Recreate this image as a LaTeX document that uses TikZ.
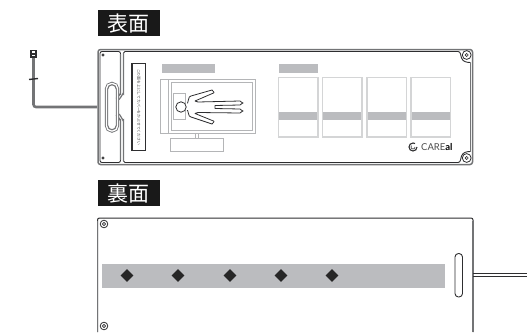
\documentclass[tikz,border=0pt]{standalone}
\usepackage{fontspec}
\setsansfont{Lato}
\newfontfamily\cjkfont{Noto Sans CJK JP}
\usetikzlibrary{shapes}
\definecolor{barkgrey}{HTML}{BBBCBF}
\definecolor{edgegrey}{HTML}{737476}
\definecolor{darkline}{HTML}{2E2E30}
\definecolor{cardgrey}{HTML}{D4D5D6}
\definecolor{bedgrey}{HTML}{B4B5B7}
\tikzset{
	titlebox/.style={fill=black!90,text=white,font=\cjkfont\fontsize{21}{21}\selectfont,inner sep=0pt,minimum width=62,minimum height=26},
	greybar/.style={fill=barkgrey,draw=none},
	cardbox/.style={draw=cardgrey,line width=1.1pt},
	bedline/.style={draw=bedgrey,line width=1pt},
	panelout/.style={draw=edgegrey,line width=1.5pt,rounded corners=2.5pt},
	panelin/.style={draw=darkline,line width=0.9pt},
	foldline/.style={draw=edgegrey,line width=1.2pt},
	slotline/.style={draw=edgegrey,line width=3.4pt},
	slotcore/.style={draw=white,line width=1.3pt},
	bodyline/.style={draw=darkline,line width=0.8pt,line join=round},
	cableout/.style={draw=edgegrey,line width=2.6pt,rounded corners=2.5pt},
}
\newcommand{\screwmark}[2]{
	\draw[darkline,line width=0.8pt] #1 circle (#2);
	\draw[darkline,line width=0.6pt] #1 circle (1.6);
}
\begin{document}
\begin{tikzpicture}[x=1pt,y=-1pt]
	\useasboundingbox (0,0) rectangle (527,332);
	% titles
	\node[titlebox,anchor=north west] (fronttitle) at (97.5,10) {表面};
	\node[titlebox,anchor=north west] (backtitle) at (97.5,180) {裏面};

	% cable of the front panel
	\draw[cableout] (97,107) -- (33.5,107) -- (33.5,56);
	\draw[darkline,line width=1.4pt] (29,79.5) -- (38,78.5);
	\draw[darkline,line width=1.2pt,fill=white] (31,50.5) rectangle (36,57);
	\fill[darkline] (31,52.5) rectangle (36,54.5);

	% front panel
	\draw[panelout] (98,49.5) rectangle (472.5,164.5);
	\draw[panelin] (125,51.5) -- (458,51.5) to[out=0,in=110] (461.5,58) to[out=-70,in=180] (470.5,62.5);
	\draw[panelin] (125,162.5) -- (458,162.5) to[out=0,in=-110] (461.5,156) to[out=70,in=180] (470.5,151.5);
	\draw[panelin] (123.5,53) to[out=90,in=180] (125,51.5);
	\draw[panelin] (123.5,161) to[out=-90,in=180] (125,162.5);
	\draw[foldline] (470.5,62.5) -- (470.5,151.5);
	\screwmark{(466.7,55)}{4.4}
	\screwmark{(466.7,158)}{4.4}
	\draw[darkline,line width=0.7pt] (103,55) circle (1.2);
	\draw[darkline,line width=0.7pt] (103,158) circle (1.2);

	% flap and finger slot
	\draw[panelin,rounded corners=2pt] (120.5,54) -- (120.5,51.5) -- (100,51.5) -- (100,162.5) -- (120.5,162.5) -- (120.5,160);
	\draw[foldline] (120.5,54) -- (120.5,94) to[out=90,in=0] (116,98.5);
	\draw[foldline] (120.5,160) -- (120.5,120) to[out=-90,in=0] (116,115);
	\draw[foldline] (123.5,53) -- (123.5,94) to[out=90,in=0] (117,100.5);
	\draw[foldline] (123.5,161) -- (123.5,120) to[out=-90,in=0] (117,113);
	\draw[slotline,rounded corners=5.5pt] (106.5,83.5) rectangle (117.5,131);
	\draw[slotcore,rounded corners=5pt] (106.5,83.5) rectangle (117.5,131);

	% side label
	\draw[darkline,line width=1.2pt,fill=white] (132,63.5) rectangle (145.5,150.5);
	\node[rotate=-90,inner sep=0pt,text=black!75,font=\cjkfont\fontsize{3.8}{4}\selectfont] (sidetext) at (138.8,107) {この面を上にしてカバーをかぶせてください};

	% bed
	\fill[greybar] (161.5,64) rectangle (214.5,72.5);
	\draw[bedline] (160.5,79.5) rectangle (255.5,133.5);
	\draw[bedline] (168,79.5) -- (168,133.5);
	\draw[bedline] (171,82) rectangle (252,130.5);
	\draw[bedline] (173,93.5) rectangle (185.5,119.5);
	\draw[bedline] (170,138) rectangle (223,151);
	\draw[bedline] (195,133.5) -- (195,138);
	\draw[bedline] (198,133.5) -- (198,138);
	% patient
	\draw[bodyline,fill=white] (181,107) circle (5.2);
	\draw[bodyline] (187,103) to[out=-70,in=160] (191,96) -- (212,90) to[out=-10,in=-30] (213.5,93) -- (195,101) -- (198,102) -- (240,101) to[out=0,in=-90] (243,103) to[out=90,in=0] (240,105) -- (215,105.5) -- (215,108.5) -- (240,109) to[out=0,in=-90] (243,111) to[out=90,in=0] (240,113) -- (198,112.5) -- (195,113.5) -- (213.5,121) to[out=30,in=10] (212,124) -- (191,117) to[out=-160,in=70] (187,110.5);

	% cards
	\fill[greybar] (279,64) rectangle (317.5,72.5);
	\foreach \cardx [count=\cardi] in {278.5,322.5,367,411} {
		\fill[greybar] (\cardx,112) rectangle ++(39.5,8);
		\draw[cardbox] (\cardx,77.5) rectangle ++(39.5,59.5);
	}

	% logo
	\draw[darkline,line width=1.1pt] (417,147) arc (0:300:4);
	\draw[darkline,line width=0.6pt] (415,147) arc (0:220:2);
	\node[anchor=west,inner sep=0pt,font=\sffamily\fontsize{9.5}{9.5}\selectfont] (logotext) at (421,147) {\textcolor{black!70}{CARE}\textbf{\textcolor{black}{al}}};

	% back panel
	\draw[darkline,line width=1pt,rounded corners=2pt] (97.5,332) -- (97.5,218) -- (473,218) -- (473,332);
	\draw[edgegrey,line width=1.5pt] (97.5,221) -- (97.5,332);
	\draw[edgegrey,line width=1.5pt] (473,221) -- (473,332);
	\fill[greybar] (101.5,264) rectangle (445,288);
	\foreach \spotx in {127,178,230,281,332}
		\node[diamond,fill=black!85,inner sep=0pt,minimum size=13] (spot\spotx) at (\spotx,275.5) {};
	\screwmark{(104,224)}{3.8}
	\screwmark{(104,326)}{3.8}
	\draw[darkline,line width=0.9pt,rounded corners=3.5pt] (455,253.5) rectangle (462.5,297);
	\coordinate (cableend) at (527,275);
	\coordinate (cablestart) at (473,275);
	\draw[darkline,line width=1pt] ([yshift=-1.2]cablestart) -- ([yshift=-1.2]cableend);
	\draw[darkline,line width=1pt] ([yshift=1.2]cablestart) -- ([yshift=1.2]cableend);
\end{tikzpicture}
\end{document}
